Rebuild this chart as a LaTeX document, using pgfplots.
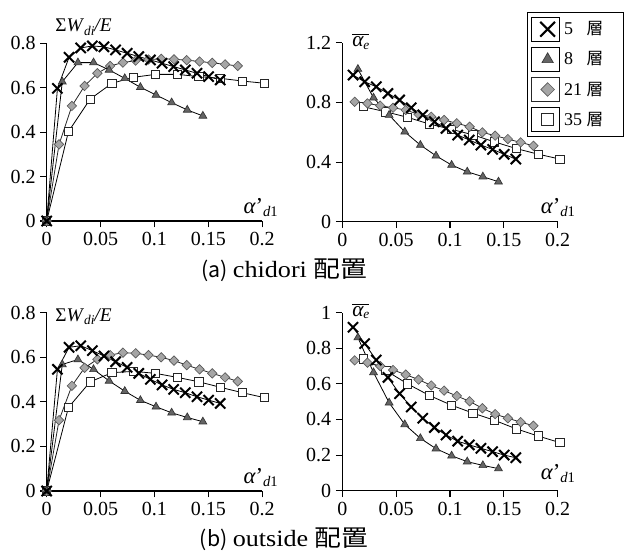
\documentclass[border=0pt]{standalone}
\usepackage{fontspec}
\setmainfont{Liberation Serif}
\newfontfamily\jp{Noto Sans CJK JP}
\usepackage{graphicx}
\usepackage{pgfplots}
\pgfplotsset{compat=1.18}
\definecolor{tri}{RGB}{100,100,100}
\definecolor{dia}{RGB}{165,165,165}

\pgfplotsset{
 base/.style={scale only axis, width=161.6pt, xmin=0, xmax=0.2, ymin=0,
   axis x line=bottom, axis y line=left, axis line style={-, line width=0.9pt},
   tick align=outside, major tick length=4.8pt, tick style={line width=0.8pt, black},
   xtick={0,0.05,0.1,0.15,0.2}, xticklabels={0,0.05,0.1,0.15,0.2},
   tick label style={font=\rmfamily\fontsize{15}{15}\selectfont}, clip=false, anchor=south west},
 s5/.style={black, line width=0.6pt, mark=x, mark size=5.4pt, mark options={line width=1.5pt, black}},
 s8/.style={black, line width=0.6pt, mark=triangle*, mark size=3.4pt, mark options={fill=tri, draw=black!80, line width=0.5pt}},
 s21/.style={black!85, line width=0.6pt, mark=square*, mark size=2.5pt, mark options={rotate=45, fill=dia, draw=black!65, line width=0.5pt}},
 s35/.style={black, line width=0.6pt, mark=square*, mark size=3.1pt, mark options={fill=white, draw=black!85, line width=0.6pt}},
}

\newcommand{\ylW}{{\fontsize{14.5}{15}\selectfont Σ\textit{W}\raisebox{-0.35ex}{\fontsize{10}{10}\selectfont\textit{di}}\textit{/E}}}
\newcommand{\ylA}{{\fontsize{16}{16}\selectfont$\overline{\mbox{\itshape α}\raisebox{-0.3ex}{\fontsize{10}{10}\selectfont\itshape e}}$}}
\newcommand{\xlA}{{\fontsize{17}{17}\selectfont\itshape α\upshape ’\raisebox{-0.35ex}{\fontsize{11}{11}\selectfont\itshape d\upshape 1}}}
\newcommand{\legtxt}[1]{\makebox[40.5pt][l]{\hspace{1pt}\fontsize{13.5}{15}\selectfont\makebox[17pt][l]{#1}{\jp\fontsize{12.5}{12}\selectfont 層}}}
\newcommand{\capt}[2]{{\jp\fontsize{16}{16}\selectfont (#1)}\hspace{4pt}\scalebox{1.12}[1]{\fontsize{17.5}{17}\selectfont #2}\hspace{5pt}\scalebox{1.15}[1]{\jp\fontsize{17.5}{17}\selectfont 配置}}

\begin{document}
\begin{tikzpicture}
\path[use as bounding box] (0,0) rectangle (468pt,415.5pt);

% (a) top-left
\begin{axis}[base, at={(35pt,249.75pt)}, height=133.3pt, ymax=0.8,
  ytick={0,0.2,0.4,0.6,0.8}, yticklabels={0,0.2,0.4,0.6,0.8}]
\addplot[s35] coordinates {(0,0) (0.0202,0.402) (0.0404,0.549) (0.0606,0.620) (0.0808,0.647) (0.1010,0.660) (0.1212,0.660) (0.1414,0.650) (0.1616,0.642) (0.1818,0.630) (0.2020,0.620)};
\addplot[s21] coordinates {(0,0) (0.0115,0.345) (0.0234,0.518) (0.0352,0.608) (0.0471,0.665) (0.0589,0.698) (0.0708,0.713) (0.0826,0.722) (0.0945,0.727) (0.1063,0.730) (0.1182,0.728) (0.1300,0.724) (0.1419,0.718) (0.1537,0.712) (0.1656,0.705) (0.1774,0.698)};
\addplot[s8] coordinates {(0,0) (0.0145,0.627) (0.0290,0.713) (0.0435,0.713) (0.0580,0.680) (0.0725,0.642) (0.0870,0.602) (0.1015,0.567) (0.1160,0.533) (0.1305,0.500) (0.1450,0.473)};
\addplot[s5] coordinates {(0,0) (0.0100,0.597) (0.0208,0.737) (0.0316,0.779) (0.0424,0.788) (0.0532,0.784) (0.0640,0.770) (0.0747,0.755) (0.0855,0.740) (0.0963,0.725) (0.1071,0.710) (0.1179,0.695) (0.1287,0.680) (0.1395,0.665) (0.1503,0.650) (0.1611,0.635)};
\end{axis}

% (a) top-right
\begin{axis}[base, at={(256.7pt,249.2pt)}, height=134.25pt, ymax=1.2,
  ytick={0,0.4,0.8,1.2}, yticklabels={0,0.4,0.8,1.2},
  reverse legend,
  legend style={at={(rel axis cs:0.856,1.170)}, anchor=north west, draw=black, line width=0.8pt, fill=white,
    inner xsep=3pt, inner ysep=3pt, row sep=4pt, legend cell align=left},
  legend image code/.code={\path (0pt,-9pt) rectangle (21pt,9pt); \draw[#1, only marks, every mark/.append style={scale=1.45}] plot coordinates {(12pt,0pt)};}]
\addplot[s35] coordinates {(0.0195,0.771) (0.0404,0.737) (0.0606,0.700) (0.0808,0.655) (0.1010,0.620) (0.1212,0.583) (0.1414,0.535) (0.1616,0.490) (0.1818,0.453) (0.2020,0.420)};
\addlegendentry{\legtxt{35}}
\addplot[s21] coordinates {(0.0115,0.804) (0.0234,0.793) (0.0352,0.778) (0.0471,0.764) (0.0589,0.749) (0.0708,0.720) (0.0826,0.704) (0.0945,0.682) (0.1063,0.660) (0.1182,0.637) (0.1300,0.599) (0.1419,0.577) (0.1537,0.554) (0.1656,0.532) (0.1774,0.509)};
\addlegendentry{\legtxt{21}}
\addplot[s8] coordinates {(0.0145,1.023) (0.0290,0.831) (0.0435,0.715) (0.0580,0.603) (0.0725,0.514) (0.0870,0.442) (0.1015,0.380) (0.1160,0.335) (0.1305,0.302) (0.1450,0.268)};
\addlegendentry{\legtxt{8}}
\addplot[s5] coordinates {(0.0100,0.983) (0.0208,0.938) (0.0316,0.905) (0.0424,0.860) (0.0532,0.816) (0.0640,0.764) (0.0747,0.715) (0.0855,0.670) (0.0963,0.626) (0.1071,0.581) (0.1179,0.548) (0.1287,0.514) (0.1395,0.485) (0.1503,0.452) (0.1611,0.420)};
\addlegendentry{\legtxt{5}}
\end{axis}

% (b) bottom-left
\begin{axis}[base, at={(35pt,47.25pt)}, height=133.7pt, ymax=0.8,
  ytick={0,0.2,0.4,0.6,0.8}, yticklabels={0,0.2,0.4,0.6,0.8}]
\addplot[s35] coordinates {(0,0) (0.0202,0.375) (0.0404,0.490) (0.0606,0.531) (0.0808,0.537) (0.1010,0.528) (0.1212,0.510) (0.1414,0.490) (0.1616,0.465) (0.1818,0.441) (0.2020,0.419)};
\addplot[s21] coordinates {(0,0) (0.0115,0.318) (0.0234,0.472) (0.0352,0.553) (0.0471,0.591) (0.0589,0.610) (0.0708,0.621) (0.0826,0.618) (0.0945,0.610) (0.1063,0.600) (0.1182,0.585) (0.1300,0.565) (0.1419,0.546) (0.1537,0.528) (0.1656,0.510) (0.1774,0.492)};
\addplot[s8] coordinates {(0,0) (0.0145,0.568) (0.0290,0.590) (0.0435,0.546) (0.0580,0.494) (0.0725,0.448) (0.0870,0.407) (0.1015,0.378) (0.1160,0.351) (0.1305,0.330) (0.1450,0.311)};
\addplot[s5] coordinates {(0,0) (0.0100,0.546) (0.0208,0.645) (0.0316,0.652) (0.0424,0.630) (0.0532,0.606) (0.0640,0.580) (0.0747,0.555) (0.0855,0.528) (0.0963,0.501) (0.1071,0.476) (0.1179,0.456) (0.1287,0.441) (0.1395,0.423) (0.1503,0.408) (0.1611,0.393)};
\end{axis}

% (b) bottom-right
\begin{axis}[base, at={(256.7pt,47.5pt)}, height=133.5pt, ymax=1,
  ytick={0,0.2,0.4,0.6,0.8,1}, yticklabels={0,0.2,0.4,0.6,0.8,1}]
\addplot[s35] coordinates {(0.0195,0.741) (0.0404,0.675) (0.0606,0.600) (0.0808,0.535) (0.1010,0.481) (0.1212,0.436) (0.1414,0.395) (0.1616,0.347) (0.1818,0.307) (0.2020,0.270)};
\addplot[s21] coordinates {(0.0115,0.732) (0.0234,0.719) (0.0352,0.700) (0.0471,0.678) (0.0589,0.652) (0.0708,0.624) (0.0826,0.591) (0.0945,0.562) (0.1063,0.532) (0.1182,0.502) (0.1300,0.463) (0.1419,0.430) (0.1537,0.407) (0.1656,0.385) (0.1774,0.365)};
\addplot[s8] coordinates {(0.0145,0.860) (0.0290,0.664) (0.0435,0.494) (0.0580,0.372) (0.0725,0.294) (0.0870,0.236) (0.1015,0.196) (0.1160,0.163) (0.1305,0.142) (0.1450,0.124)};
\addplot[s5] coordinates {(0.0100,0.918) (0.0208,0.826) (0.0316,0.734) (0.0424,0.636) (0.0532,0.545) (0.0640,0.470) (0.0747,0.407) (0.0855,0.355) (0.0963,0.313) (0.1071,0.278) (0.1179,0.257) (0.1287,0.238) (0.1395,0.219) (0.1503,0.200) (0.1611,0.185)};
\end{axis}

% axis labels
\node[anchor=base west, inner sep=0pt] at (41.25pt,391.5pt) {\ylW};
\node[anchor=base west, inner sep=0pt] at (41.25pt,174.2pt) {\ylW};
\node[anchor=base west, inner sep=0pt] at (264pt,380.5pt) {\ylA};
\node[anchor=base west, inner sep=0pt] at (264pt,178.5pt) {\ylA};
\node[anchor=base west, inner sep=0pt] at (182.5pt,255.5pt) {\xlA};
\node[anchor=base west, inner sep=0pt] at (405.5pt,255.5pt) {\xlA};
\node[anchor=base west, inner sep=0pt] at (182.5pt,53pt) {\xlA};
\node[anchor=base west, inner sep=0pt] at (405.5pt,56pt) {\xlA};

% captions
\node[anchor=base, inner sep=0pt] at (213.2pt,207.5pt) {\capt{a}{chidori}};
\node[anchor=base, inner sep=0pt] at (213.2pt,5.5pt) {\capt{b}{outside}};
\end{tikzpicture}
\end{document}
